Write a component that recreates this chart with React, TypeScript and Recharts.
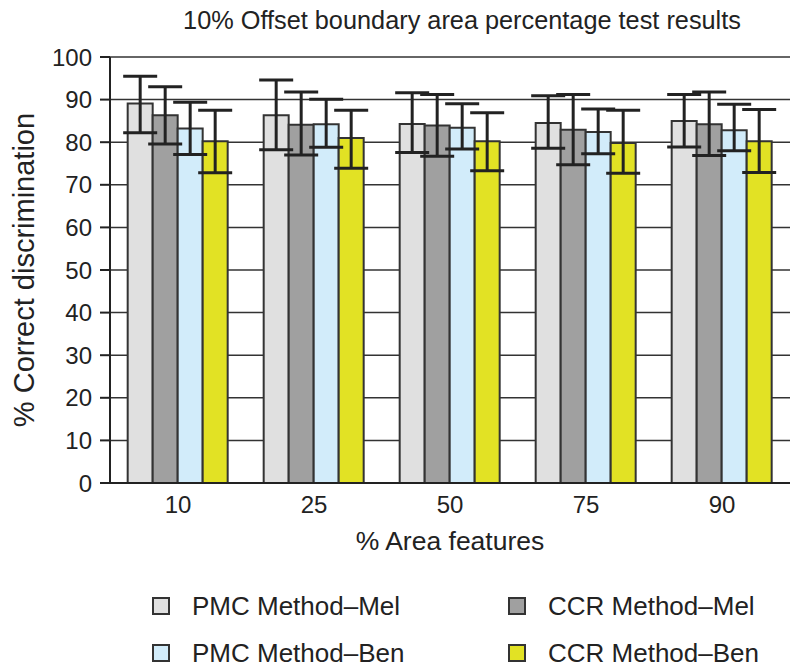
import React from 'react';
import { BarChart, Bar, XAxis, YAxis, CartesianGrid, ErrorBar } from 'recharts';

const categories = ['10', '25', '50', '75', '90'];
const yTicks = [0, 10, 20, 30, 40, 50, 60, 70, 80, 90, 100];

const pmcMel = [89.1, 86.3, 84.3, 84.5, 85.0];
const pmcMelHi = [95.5, 94.6, 91.6, 90.9, 91.2];
const pmcMelLo = [82.2, 78.2, 77.6, 78.6, 78.9];

const ccrMel = [86.3, 84.1, 83.9, 82.9, 84.2];
const ccrMelHi = [93.0, 91.8, 91.2, 91.2, 91.8];
const ccrMelLo = [79.6, 77.0, 76.7, 74.7, 76.9];

const pmcBen = [83.2, 84.2, 83.4, 82.4, 82.8];
const pmcBenHi = [89.4, 90.1, 89.0, 87.8, 88.9];
const pmcBenLo = [77.1, 78.8, 78.4, 77.3, 78.0];

const ccrBen = [80.2, 81.0, 80.2, 79.8, 80.2];
const ccrBenHi = [87.5, 87.5, 86.9, 87.5, 87.7];
const ccrBenLo = [72.8, 73.9, 73.3, 72.7, 72.9];

const series = [
  { key: 'pmcMel', name: 'PMC Method\u2013Mel', color: '#e0e0e0', v: pmcMel, hi: pmcMelHi, lo: pmcMelLo },
  { key: 'ccrMel', name: 'CCR Method\u2013Mel', color: '#a0a0a0', v: ccrMel, hi: ccrMelHi, lo: ccrMelLo },
  { key: 'pmcBen', name: 'PMC Method\u2013Ben', color: '#d2ecfa', v: pmcBen, hi: pmcBenHi, lo: pmcBenLo },
  { key: 'ccrBen', name: 'CCR Method\u2013Ben', color: '#e2e224', v: ccrBen, hi: ccrBenHi, lo: ccrBenLo },
];

const data = categories.map((c, i) => {
  const row: any = { cat: c };
  series.forEach((s) => {
    row[s.key] = s.v[i];
    row[s.key + 'Err'] = [+(s.v[i] - s.lo[i]).toFixed(2), +(s.hi[i] - s.v[i]).toFixed(2)];
  });
  return row;
});

const FONT = '"Liberation Sans", Arial, Helvetica, sans-serif';

export default function App() {
  return (
    <div style={{ position: 'relative', width: 792, height: 662, fontFamily: FONT, color: '#222' }}>
      <div
        style={{
          position: 'absolute',
          top: -3,
          left: 0,
          width: 908,
          textAlign: 'center',
          fontSize: 25.3,
          lineHeight: '30px',
          whiteSpace: 'nowrap',
        }}
      >
        10% Offset boundary area percentage test results
      </div>
      <div style={{ position: 'absolute', top: 0, left: 0 }}>
        <BarChart
          width={792}
          height={550}
          data={data}
          margin={{ top: 49, right: 10, left: 0, bottom: 0 }}
          barCategoryGap="13%"
          barGap={0}
        >
          <CartesianGrid vertical={false} stroke="#333" strokeWidth={1.5} />
          <XAxis
            dataKey="cat"
            height={75}
            tickLine={false}
            axisLine={{ stroke: '#222', strokeWidth: 2 }}
            tick={{ fill: '#222', fontSize: 24, fontFamily: FONT }}
            tickMargin={7}
            label={{ value: '% Area features', position: 'insideBottom', offset: 8, fill: '#222', fontSize: 26.5, fontFamily: FONT }}
          />
          <YAxis
            width={102}
            domain={[0, 100]}
            ticks={yTicks}
            interval={0}
            tickSize={10}
            tickMargin={8}
            tickLine={{ stroke: '#222', strokeWidth: 2 }}
            axisLine={{ stroke: '#222', strokeWidth: 2 }}
            tick={{ fill: '#222', fontSize: 24, fontFamily: FONT }}
            label={{
              value: '% Correct discrimination',
              angle: -90,
              position: 'insideLeft',
              offset: 16,
              fill: '#222',
              fontSize: 29,
              fontFamily: FONT,
              style: { textAnchor: 'middle' },
            }}
          />
          {series.map((s) => (
            <Bar
              key={s.key}
              dataKey={s.key}
              name={s.name}
              fill={s.color}
              stroke="#333"
              strokeWidth={2}
              isAnimationActive={false}
            >
              <ErrorBar dataKey={s.key + 'Err'} width={17} strokeWidth={3} stroke="#222" direction="y" />
            </Bar>
          ))}
        </BarChart>
      </div>
      <div
        style={{
          position: 'absolute',
          top: 583,
          left: 144,
          display: 'grid',
          gridTemplateColumns: '356px 270px',
          rowGap: 17,
          fontSize: 26,
        }}
      >
        {series.map((s) => (
          <div key={s.key} style={{ display: 'flex', alignItems: 'center', height: 30, whiteSpace: 'nowrap' }}>
            <span
              style={{
                display: 'inline-block',
                width: 14,
                height: 14,
                background: s.color,
                border: '2px solid #333',
                marginRight: 22,
                flexShrink: 0,
              }}
            />
            <span>{s.name}</span>
          </div>
        ))}
      </div>
    </div>
  );
}
